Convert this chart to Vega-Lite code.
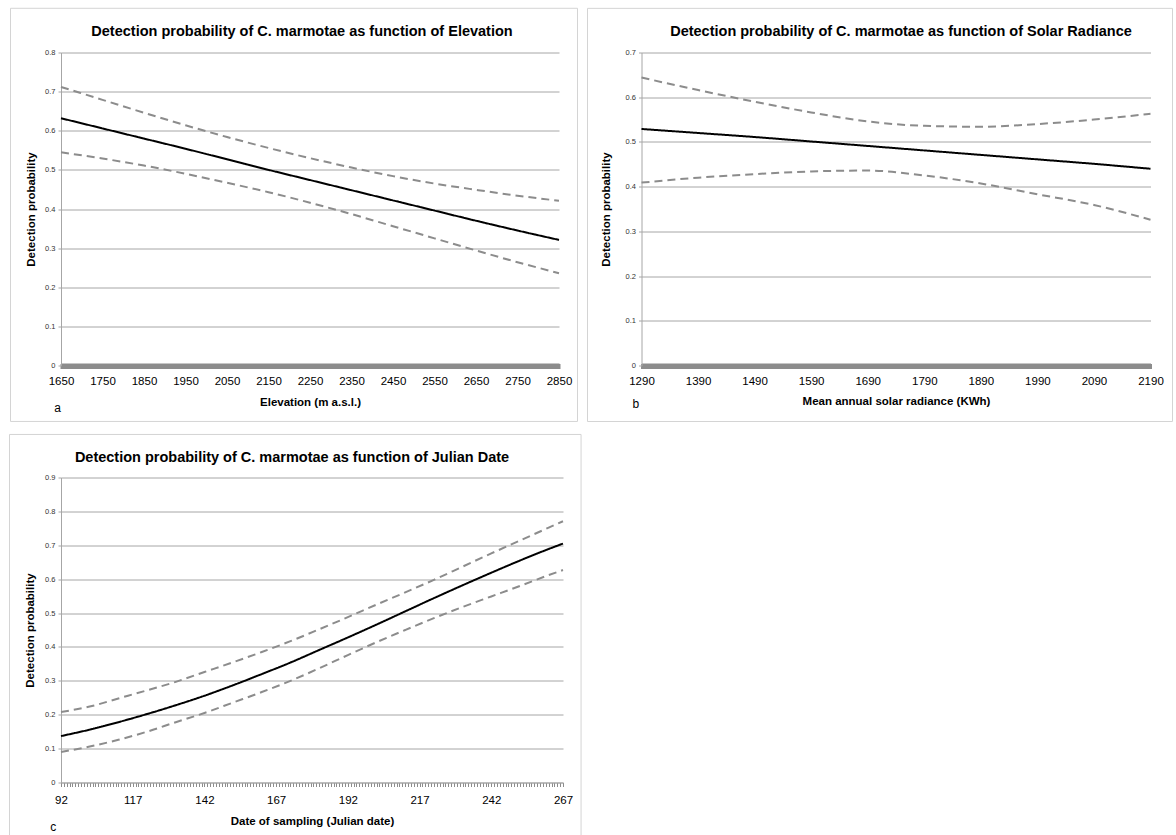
{
  "$schema": "https://vega.github.io/schema/vega-lite/v6.json",
  "padding": {"left": 9, "top": 7.5, "right": 0, "bottom": 0},
  "background": "white",
  "config": {
    "font": "Liberation Sans",
    "view": {"stroke": null},
    "title": {"fontSize": 14.5, "fontWeight": "bold", "color": "#000000", "font": "Liberation Sans", "frame": "group", "anchor": "middle"},
    "axis": {"labelFont": "Liberation Sans", "titleFont": "Liberation Sans"}
  },
  "datasets": {
    "elev": [
      {"elevation": 1650, "p": 0.632, "lower": 0.545, "upper": 0.712},
      {"elevation": 1750, "p": 0.606, "lower": 0.529, "upper": 0.679},
      {"elevation": 1850, "p": 0.580, "lower": 0.511, "upper": 0.646},
      {"elevation": 1950, "p": 0.554, "lower": 0.490, "upper": 0.614},
      {"elevation": 2050, "p": 0.527, "lower": 0.467, "upper": 0.584},
      {"elevation": 2150, "p": 0.500, "lower": 0.443, "upper": 0.556},
      {"elevation": 2250, "p": 0.474, "lower": 0.416, "upper": 0.530},
      {"elevation": 2350, "p": 0.448, "lower": 0.387, "upper": 0.506},
      {"elevation": 2450, "p": 0.422, "lower": 0.356, "upper": 0.484},
      {"elevation": 2550, "p": 0.396, "lower": 0.325, "upper": 0.465},
      {"elevation": 2650, "p": 0.370, "lower": 0.294, "upper": 0.449},
      {"elevation": 2750, "p": 0.345, "lower": 0.264, "upper": 0.434},
      {"elevation": 2850, "p": 0.321, "lower": 0.236, "upper": 0.421}
    ],
    "solar": [
      {"radiance": 1290, "p": 0.529, "lower": 0.409, "upper": 0.644},
      {"radiance": 1390, "p": 0.520, "lower": 0.420, "upper": 0.616},
      {"radiance": 1490, "p": 0.511, "lower": 0.428, "upper": 0.590},
      {"radiance": 1590, "p": 0.501, "lower": 0.434, "upper": 0.566},
      {"radiance": 1690, "p": 0.491, "lower": 0.436, "upper": 0.546},
      {"radiance": 1790, "p": 0.481, "lower": 0.425, "upper": 0.536},
      {"radiance": 1890, "p": 0.471, "lower": 0.407, "upper": 0.534},
      {"radiance": 1990, "p": 0.461, "lower": 0.383, "upper": 0.540},
      {"radiance": 2090, "p": 0.451, "lower": 0.359, "upper": 0.550},
      {"radiance": 2190, "p": 0.440, "lower": 0.326, "upper": 0.563}
    ],
    "julian": [
      {"day": 92, "p": 0.137, "lower": 0.090, "upper": 0.208},
      {"day": 102, "p": 0.156, "lower": 0.106, "upper": 0.224},
      {"day": 112, "p": 0.178, "lower": 0.126, "upper": 0.248},
      {"day": 122, "p": 0.202, "lower": 0.150, "upper": 0.272},
      {"day": 132, "p": 0.228, "lower": 0.178, "upper": 0.297},
      {"day": 142, "p": 0.256, "lower": 0.205, "upper": 0.326},
      {"day": 152, "p": 0.287, "lower": 0.236, "upper": 0.355},
      {"day": 162, "p": 0.320, "lower": 0.267, "upper": 0.385},
      {"day": 172, "p": 0.354, "lower": 0.300, "upper": 0.417},
      {"day": 182, "p": 0.391, "lower": 0.337, "upper": 0.452},
      {"day": 192, "p": 0.428, "lower": 0.376, "upper": 0.488},
      {"day": 202, "p": 0.466, "lower": 0.414, "upper": 0.525},
      {"day": 212, "p": 0.505, "lower": 0.450, "upper": 0.561},
      {"day": 222, "p": 0.544, "lower": 0.485, "upper": 0.598},
      {"day": 232, "p": 0.582, "lower": 0.518, "upper": 0.637},
      {"day": 242, "p": 0.619, "lower": 0.549, "upper": 0.676},
      {"day": 252, "p": 0.655, "lower": 0.580, "upper": 0.714},
      {"day": 262, "p": 0.689, "lower": 0.612, "upper": 0.752},
      {"day": 267, "p": 0.705, "lower": 0.627, "upper": 0.771}
    ]
  },
  "spacing": 11,
  "vconcat": [
    {
      "spacing": 7.5,
      "hconcat": [
        {
          "width": 498,
          "height": 313,
          "title": {"text": "Detection probability of C. marmotae as function of  Elevation", "dx": -8, "offset": -32},
          "data": {"name": "elev"},
          "layer": [
            {
              "data": {"values": [{}]},
              "mark": {"type": "rect", "fill": "transparent", "stroke": "#d4d4d4", "strokeWidth": 1},
              "encoding": {"x": {"datum": 1528.3}, "x2": {"datum": 2894.6}, "y": {"datum": 0.913}, "y2": {"datum": -0.143}}
            },
            {
              "transform": [{"fold": ["upper", "lower", "p"], "as": ["band", "value"]}],
              "mark": {"type": "line", "strokeWidth": 2, "interpolate": "monotone"},
              "encoding": {
                "x": {"field": "elevation", "type": "quantitative", "scale": {"domain": [1650, 2850], "nice": false, "zero": false},
                  "axis": {"title": "Elevation (m a.s.l.)", "grid": false, "tickCount": 600, "format": "d", "labelExpr": "(datum.value - 1650) % 100 === 0 ? datum.label : ''", "labelOverlap": false, "labelFlush": false, "tickSize": 5, "tickWidth": 2, "tickColor": "#8c8c8c", "domainColor": "#8c8c8c", "offset": -2, "labelPadding": 7, "labelFontSize": 11.5, "labelColor": "#000000", "titleFontSize": 11.5, "titleFontWeight": "bold", "titleColor": "#000000", "titlePadding": 9}},
                "y": {"field": "value", "type": "quantitative", "scale": {"domain": [0, 0.8], "nice": false},
                  "axis": {"title": "Detection probability", "values": [0, 0.1, 0.2, 0.3, 0.4, 0.5, 0.6, 0.7, 0.8], "tickCount": 20, "format": "~g", "grid": true, "gridColor": "#a6a6a6", "domainColor": "#a6a6a6", "tickColor": "#a6a6a6", "tickSize": 3, "labelFontSize": 7.5, "labelColor": "#333333", "labelPadding": 3, "titleFontSize": 11.5, "titleFontWeight": "bold", "titleColor": "#000000", "titlePadding": 8}},
                "color": {"field": "band", "type": "nominal", "scale": {"domain": ["p", "lower", "upper"], "range": ["#000000", "#8c8c8c", "#8c8c8c"]}, "legend": null},
                "strokeDash": {"field": "band", "type": "nominal", "scale": {"domain": ["p", "lower", "upper"], "range": [[1, 0], [8, 5], [8, 5]]}, "legend": null}
              }
            },
            {
              "data": {"values": [{}]},
              "mark": {"type": "text", "text": "a", "fontSize": 12, "color": "#000000", "align": "center", "baseline": "middle"},
              "encoding": {"x": {"datum": 1642}, "y": {"datum": -0.109}}
            }
          ]
        },
        {
          "width": 509,
          "height": 313,
          "title": {"text": "Detection probability of C. marmotae as function of Solar Radiance", "dx": 5, "offset": -32},
          "data": {"name": "solar"},
          "layer": [
            {
              "data": {"values": [{}]},
              "mark": {"type": "rect", "fill": "transparent", "stroke": "#d4d4d4", "strokeWidth": 1},
              "encoding": {"x": {"datum": 1194.5}, "x2": {"datum": 2228.9}, "y": {"datum": 0.7987}, "y2": {"datum": -0.1253}}
            },
            {
              "transform": [{"fold": ["upper", "lower", "p"], "as": ["band", "value"]}],
              "mark": {"type": "line", "strokeWidth": 2, "interpolate": "monotone"},
              "encoding": {
                "x": {"field": "radiance", "type": "quantitative", "scale": {"domain": [1290, 2190], "nice": false, "zero": false},
                  "axis": {"title": "Mean annual solar radiance (KWh)", "grid": false, "tickCount": 450, "format": "d", "labelExpr": "(datum.value - 1290) % 100 === 0 ? datum.label : ''", "labelOverlap": false, "labelFlush": false, "tickSize": 5, "tickWidth": 2, "tickColor": "#8c8c8c", "domainColor": "#8c8c8c", "offset": -2, "labelPadding": 7, "labelFontSize": 11.5, "labelColor": "#000000", "titleFontSize": 11.5, "titleFontWeight": "bold", "titleColor": "#000000", "titlePadding": 8}},
                "y": {"field": "value", "type": "quantitative", "scale": {"domain": [0, 0.7], "nice": false},
                  "axis": {"title": "Detection probability", "values": [0, 0.1, 0.2, 0.3, 0.4, 0.5, 0.6, 0.7], "tickCount": 20, "format": "~g", "grid": true, "gridColor": "#a6a6a6", "domainColor": "#a6a6a6", "tickColor": "#a6a6a6", "tickSize": 3, "labelFontSize": 7.5, "labelColor": "#333333", "labelPadding": 3, "titleFontSize": 11.5, "titleFontWeight": "bold", "titleColor": "#000000", "titlePadding": 14}},
                "color": {"field": "band", "type": "nominal", "scale": {"domain": ["p", "lower", "upper"], "range": ["#000000", "#8c8c8c", "#8c8c8c"]}, "legend": null},
                "strokeDash": {"field": "band", "type": "nominal", "scale": {"domain": ["p", "lower", "upper"], "range": [[1, 0], [8, 5], [8, 5]]}, "legend": null}
              }
            },
            {
              "data": {"values": [{}]},
              "mark": {"type": "text", "text": "b", "fontSize": 12, "color": "#000000", "align": "center", "baseline": "middle"},
              "encoding": {"x": {"datum": 1280}, "y": {"datum": -0.087}}
            }
          ]
        }
      ]
    },
    {
      "width": 502,
      "height": 305,
      "title": {"text": "Detection probability of C. marmotae as function of Julian Date", "dx": -20, "offset": -32},
      "data": {"name": "julian"},
      "layer": [
        {
          "data": {"values": [{}]},
          "mark": {"type": "rect", "fill": "transparent", "stroke": "#d4d4d4", "strokeWidth": 1},
          "encoding": {"x": {"datum": 74.05}, "x2": {"datum": 273.3}, "y": {"datum": 1.027}, "y2": {"datum": -0.17}}
        },
        {
          "transform": [{"fold": ["upper", "lower", "p"], "as": ["band", "value"]}],
          "mark": {"type": "line", "strokeWidth": 2, "interpolate": "monotone"},
          "encoding": {
            "x": {"field": "day", "type": "quantitative", "scale": {"domain": [92, 267], "nice": false, "zero": false},
              "axis": {"title": "Date of sampling (Julian date)", "grid": false, "tickCount": 175, "format": "d", "labelExpr": "(datum.value - 92) % 25 === 0 ? datum.label : ''", "labelOverlap": false, "labelFlush": false, "tickSize": 4, "tickWidth": 1, "tickColor": "#8c8c8c", "domainColor": "#a6a6a6", "labelPadding": 8, "labelFontSize": 11.5, "labelColor": "#000000", "titleFontSize": 11.5, "titleFontWeight": "bold", "titleColor": "#000000", "titlePadding": 9}},
            "y": {"field": "value", "type": "quantitative", "scale": {"domain": [0, 0.9], "nice": false},
              "axis": {"title": "Detection probability", "values": [0, 0.1, 0.2, 0.3, 0.4, 0.5, 0.6, 0.7, 0.8, 0.9], "tickCount": 20, "format": "~g", "grid": true, "gridColor": "#a6a6a6", "domainColor": "#a6a6a6", "tickColor": "#a6a6a6", "tickSize": 3, "labelFontSize": 7.5, "labelColor": "#333333", "labelPadding": 3, "titleFontSize": 11.5, "titleFontWeight": "bold", "titleColor": "#000000", "titlePadding": 9}},
            "color": {"field": "band", "type": "nominal", "scale": {"domain": ["p", "lower", "upper"], "range": ["#000000", "#8c8c8c", "#8c8c8c"]}, "legend": null},
            "strokeDash": {"field": "band", "type": "nominal", "scale": {"domain": ["p", "lower", "upper"], "range": [[1, 0], [8, 5], [8, 5]]}, "legend": null}
          }
        },
        {
          "data": {"values": [{}]},
          "mark": {"type": "text", "text": "c", "fontSize": 12, "color": "#000000", "align": "center", "baseline": "middle"},
          "encoding": {"x": {"datum": 89.3}, "y": {"datum": -0.131}}
        }
      ]
    }
  ]
}
